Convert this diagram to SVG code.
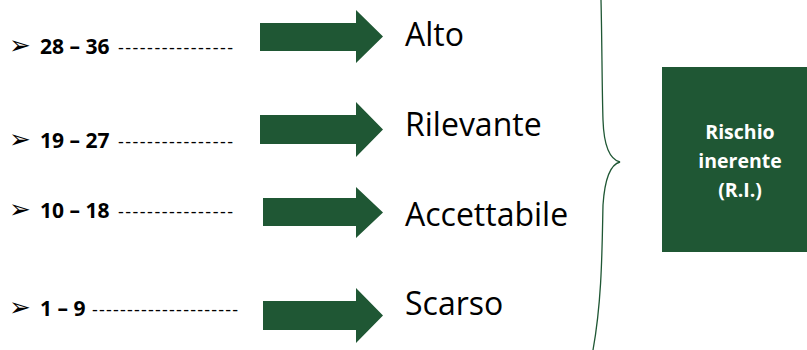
<svg xmlns="http://www.w3.org/2000/svg" width="807" height="350" viewBox="0 0 807 350">
<style>
.bul{font-family:"DejaVu Sans",sans-serif;font-size:26px;fill:#000}
.rng{font-family:"Open Sans",sans-serif;font-weight:bold;font-size:21px;fill:#000}
.dash{font-family:"Open Sans",sans-serif;font-size:18px;fill:#000}
.lvl{font-family:"Open Sans",sans-serif;font-size:32px;fill:#000}
.arr{fill:#1F5734}
.box{fill:#1F5734}
.boxt{font-family:"Open Sans",sans-serif;font-weight:bold;font-size:19.5px;fill:#fff;text-anchor:middle}
.brace{fill:none;stroke:#1F5734;stroke-width:1.3}
</style>
<g id="row1">
<text class="bul" x="9" y="54">➢</text>
<text class="rng" x="40" y="54">28 – 36</text>
<text class="dash" x="118" y="54" textLength="115" lengthAdjust="spacing">----------------</text>
</g>
<g id="row2">
<text class="bul" x="9" y="148">➢</text>
<text class="rng" x="40" y="148">19 – 27</text>
<text class="dash" x="118" y="148" textLength="115" lengthAdjust="spacing">----------------</text>
</g>
<g id="row3">
<text class="bul" x="9" y="218">➢</text>
<text class="rng" x="40" y="218">10 – 18</text>
<text class="dash" x="118" y="218" textLength="115" lengthAdjust="spacing">----------------</text>
</g>
<g id="row4">
<text class="bul" x="9" y="316">➢</text>
<text class="rng" x="40" y="316">1 – 9</text>
<text class="dash" x="92" y="316" textLength="146" lengthAdjust="spacing">---------------------</text>
</g>
<g id="connectors">
<polygon class="arr" points="260,23 356,23 356,10 383,36.5 356,63 356,51 260,51"/>
<polygon class="arr" points="260,115 356,115 356,102 383,129.5 356,157 356,144 260,144"/>
<polygon class="arr" points="263,198 356,198 356,187 383,212.5 356,238 356,226 263,226"/>
<polygon class="arr" points="263,301 356,301 356,288 383,315.5 356,343 356,330 263,330"/>
<path class="brace" d="M601,0 C602,40 602,90 603,120 C604,150 612,160 620,162 C612,164 605,175 603,205 C602,250 602,300 593,350"/>
</g>
<g id="alto"><text class="lvl" x="405" y="46">Alto</text></g>
<g id="rilevante"><text class="lvl" x="405" y="136">Rilevante</text></g>
<g id="accettabile"><text class="lvl" x="405" y="226">Accettabile</text></g>
<g id="scarso"><text class="lvl" x="405" y="315">Scarso</text></g>
<g id="rischio">
<rect class="box" x="662" y="67" width="145" height="185"/>
<text class="boxt" x="740" y="139">Rischio</text>
<text class="boxt" x="740" y="168">inerente</text>
<text class="boxt" x="740" y="197">(R.I.)</text>
</g>
</svg>
